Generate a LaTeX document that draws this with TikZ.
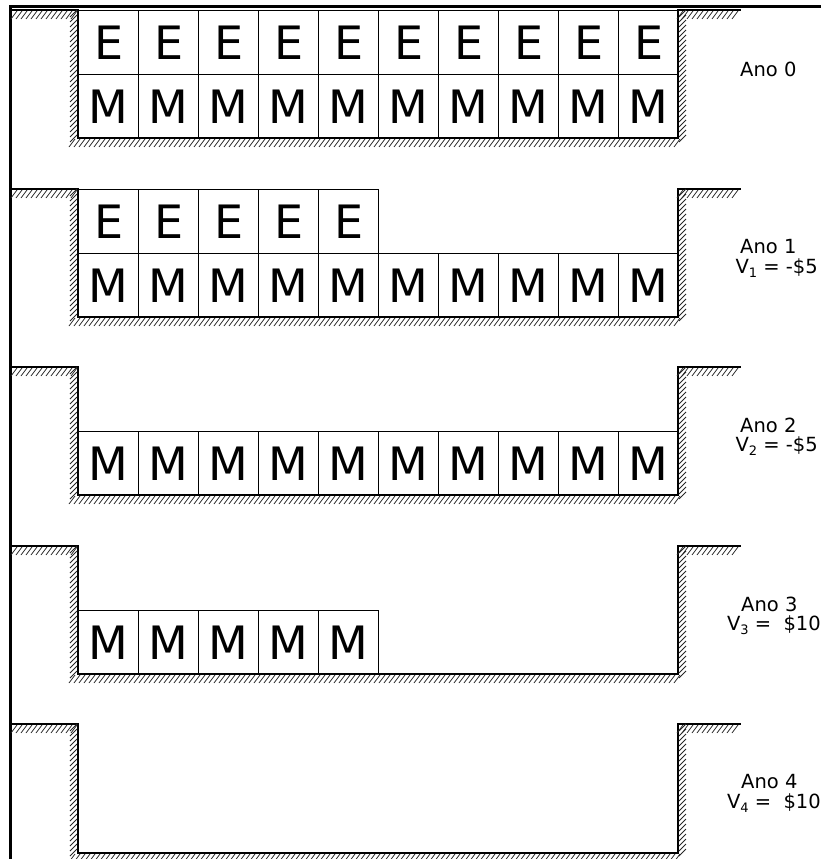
\documentclass[tikz,border=0pt]{standalone}
\usepackage{fontspec}
\setmainfont{DejaVu Sans}
\newcommand\lowsub[1]{\raisebox{-0.35ex}{\fontsize{13}{13}\selectfont #1}}
\begin{document}
\begin{tikzpicture}[x=1pt,y=-1pt,
  cell/.style={draw, line width=1.2pt, minimum width=60pt, minimum height=64pt, inner sep=0pt, anchor=north west, font=\fontsize{46}{46}\selectfont},
  wall/.style={line width=1.4pt, line cap=rect},
  hatch/.style={line width=0.75pt, black!85},
  frame/.style={line width=3pt},
  lab/.style={inner sep=0pt, font=\fontsize{19.5}{19.5}\selectfont}]
\useasboundingbox (0,0) rectangle (821,859);
\newcommand\hatchH[3]{\pgfmathtruncatemacro\nn{((#2)-(#1))/5}\foreach \i in {1,...,\nn}{\draw[hatch] ({#1+5*\i},{#3+1}) -- ++(-6,8);}}
\newcommand\hatchVL[3]{\pgfmathtruncatemacro\nn{((#3)-(#2))/5}\foreach \i in {0,...,\nn}{\draw[hatch] ({#1-1},{#2+5*\i}) -- ++(-7,7);}}
\newcommand\hatchVR[3]{\pgfmathtruncatemacro\nn{((#3)-(#2))/5}\foreach \i in {0,...,\nn}{\draw[hatch] ({#1+8},{#2+5*\i}) -- ++(-7,7);}}
% frame
\draw[frame] (10,859) -- (10,7) -- (821,7);
% pits
\foreach \t/\b in {10/138, 189/317, 367/495, 546/674, 724/853}{
  \draw[wall] (12,\t) -- (78,\t) -- (78,\b) -- (678,\b) -- (678,\t) -- (740,\t);
  \hatchH{12}{78}{\t}
  \hatchVL{78}{\t}{\b}
  \hatchH{70}{684}{\b}
  \hatchVR{678}{\t}{\b}
  \hatchH{678}{740}{\t}
}
% year 0
\foreach \i in {0,...,9}{
  \node[cell] (e0\i) at ({78+60*\i},10) {E};
  \node[cell] (m0\i) at ({78+60*\i},74) {M};
}
% year 1
\foreach \i in {0,...,4}{
  \node[cell] (e1\i) at ({78+60*\i},189) {E};
}
\foreach \i in {0,...,9}{
  \node[cell] (m1\i) at ({78+60*\i},253) {M};
}
% year 2
\foreach \i in {0,...,9}{
  \node[cell] (m2\i) at ({78+60*\i},431) {M};
}
% year 3
\foreach \i in {0,...,4}{
  \node[cell] (m3\i) at ({78+60*\i},610) {M};
}
% labels
\node[lab, anchor=west] (a0) at (740,69) {Ano 0};
\node[lab, anchor=west] (a1) at (740,247) {Ano 1};
\node[lab, anchor=east] (v1) at (818,268) {V\lowsub{1} = -\$5};
\node[lab, anchor=west] (a2) at (740,425) {Ano 2};
\node[lab, anchor=east] (v2) at (818,446) {V\lowsub{2} = -\$5};
\node[lab, anchor=west] (a3) at (741,604) {Ano 3};
\node[lab, anchor=east] (v3) at (821,625) {V\lowsub{3} = \ \$10};
\node[lab, anchor=west] (a4) at (741,782) {Ano 4};
\node[lab, anchor=east] (v4) at (821,803) {V\lowsub{4} = \ \$10};
\end{tikzpicture}
\end{document}
